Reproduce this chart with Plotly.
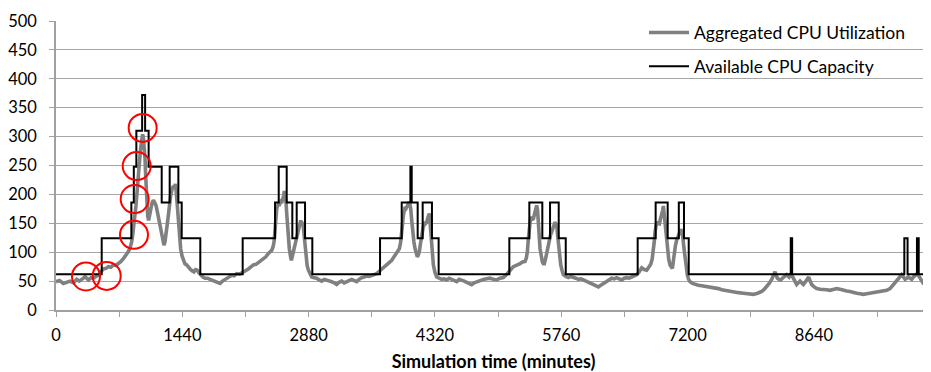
import plotly.graph_objects as go

# ---- Data ----
util_x = [
    0, 40, 84, 120, 160, 200, 236, 265, 293, 312,
    331, 350, 369, 400, 426, 455, 483, 510, 540, 570,
    597, 625, 654, 683, 711, 740, 768, 797, 825, 845,
    863, 876, 889, 900, 912, 922, 931, 940, 950, 960,
    969, 979, 988, 997, 1007, 1015, 1022, 1030, 1037, 1046,
    1056, 1067, 1079, 1094, 1110, 1125, 1140, 1155, 1170, 1188,
    1205, 1218, 1231, 1242, 1254, 1268, 1281, 1294, 1307, 1322,
    1338, 1350, 1361, 1369, 1376, 1385, 1395, 1408, 1421, 1436,
    1452, 1470, 1490, 1510, 1528, 1550, 1573, 1592, 1611, 1630,
    1649, 1675, 1699, 1728, 1756, 1785, 1813, 1840, 1870, 1898,
    1927, 1965, 2003, 2030, 2060, 2095, 2128, 2160, 2193, 2222,
    2250, 2280, 2307, 2335, 2364, 2392, 2421, 2440, 2459, 2474,
    2486, 2494, 2501, 2509, 2516, 2528, 2539, 2550, 2561, 2572,
    2584, 2594, 2603, 2612, 2622, 2630, 2637, 2648, 2660, 2672,
    2683, 2694, 2706, 2720, 2736, 2750, 2763, 2776, 2790, 2800,
    2812, 2822, 2831, 2840, 2850, 2863, 2877, 2895, 2915, 2943,
    2972, 3000, 3029, 3058, 3086, 3115, 3143, 3170, 3200, 3228,
    3257, 3285, 3314, 3342, 3371, 3400, 3428, 3456, 3485, 3514,
    3542, 3570, 3599, 3628, 3656, 3685, 3713, 3742, 3770, 3798,
    3827, 3856, 3884, 3900, 3914, 3928, 3941, 3950, 3960, 3970,
    3979, 3992, 4006, 4017, 4028, 4036, 4044, 4055, 4066, 4080,
    4093, 4106, 4119, 4130, 4142, 4155, 4169, 4182, 4196, 4210,
    4226, 4240, 4256, 4265, 4275, 4288, 4302, 4320, 4340, 4368,
    4397, 4425, 4454, 4482, 4511, 4540, 4568, 4596, 4625, 4654,
    4682, 4710, 4739, 4768, 4796, 4834, 4872, 4910, 4948, 4986,
    5024, 5062, 5100, 5128, 5157, 5185, 5214, 5252, 5290, 5318,
    5347, 5362, 5374, 5385, 5396, 5408, 5419, 5430, 5442, 5452,
    5461, 5470, 5480, 5490, 5499, 5508, 5518, 5530, 5545, 5556,
    5567, 5580, 5594, 5610, 5624, 5638, 5651, 5670, 5689, 5698,
    5708, 5718, 5727, 5740, 5754, 5770, 5784, 5812, 5841, 5870,
    5898, 5926, 5955, 5984, 6012, 6040, 6069, 6098, 6126, 6155,
    6183, 6202, 6221, 6250, 6278, 6306, 6335, 6364, 6392, 6420,
    6449, 6478, 6506, 6535, 6563, 6592, 6620, 6648, 6677, 6705,
    6734, 6757, 6780, 6796, 6810, 6820, 6829, 6838, 6848, 6862,
    6878, 6890, 6905, 6915, 6924, 6934, 6943, 6956, 6970, 6985,
    7000, 7014, 7027, 7038, 7049, 7062, 7076, 7090, 7103, 7114,
    7125, 7135, 7144, 7158, 7171, 7185, 7198, 7212, 7228, 7256,
    7285, 7323, 7361, 7408, 7456, 7503, 7551, 7590, 7627, 7675,
    7722, 7780, 7836, 7893, 7950, 7998, 8045, 8075, 8102, 8130,
    8159, 8178, 8197, 8210, 8224, 8243, 8262, 8281, 8300, 8315,
    8330, 8344, 8357, 8368, 8379, 8392, 8406, 8425, 8444, 8463,
    8482, 8500, 8520, 8540, 8558, 8570, 8581, 8598, 8615, 8643,
    8672, 8710, 8748, 8786, 8824, 8862, 8900, 8938, 8976, 9014,
    9052, 9090, 9128, 9166, 9204, 9242, 9280, 9318, 9356, 9394,
    9432, 9470, 9508, 9537, 9565, 9590, 9614, 9628, 9641, 9660,
    9679, 9698, 9717, 9736, 9755, 9774, 9793, 9806, 9819, 9835,
    9850, 9869, 9888, 9907, 9926, 9945, 9964,
]
util_y = [
    49, 51, 46, 48, 50, 47, 53, 50, 52, 55,
    58, 54, 52, 56, 55, 58, 60, 66, 71, 72,
    75, 74, 78, 77, 80, 84, 89, 94, 101, 108,
    118, 132, 147, 165, 181, 200, 221, 240, 256, 272,
    284, 298, 304, 296, 284, 262, 233, 200, 175, 162,
    155, 166, 172, 185, 190, 184, 181, 170, 158, 142,
    129, 118, 112, 118, 129, 148, 164, 185, 198, 208,
    215, 212, 218, 208, 193, 170, 147, 122, 106, 94,
    86, 80, 78, 73, 71, 68, 66, 70, 69, 64,
    60, 57, 55, 55, 53, 51, 49, 47, 46, 50,
    53, 56, 60, 59, 63, 62, 66, 68, 71, 75,
    78, 79, 82, 86, 89, 92, 98, 100, 103, 109,
    118, 132, 147, 163, 175, 181, 184, 183, 187, 185,
    190, 197, 206, 200, 187, 167, 147, 125, 106, 94,
    86, 93, 101, 112, 124, 133, 141, 148, 155, 150,
    152, 140, 124, 105, 89, 77, 69, 62, 57, 56,
    55, 52, 50, 53, 52, 50, 49, 47, 44, 48,
    50, 47, 49, 51, 53, 51, 49, 53, 56, 57,
    59, 58, 60, 61, 63, 67, 71, 76, 80, 82,
    86, 92, 98, 101, 106, 116, 129, 148, 164, 172,
    178, 176, 181, 183, 187, 182, 175, 155, 135, 118,
    106, 97, 92, 95, 101, 115, 129, 142, 152, 149,
    152, 160, 167, 150, 129, 100, 78, 65, 57, 55,
    53, 54, 52, 55, 53, 51, 49, 53, 52, 50,
    48, 46, 44, 47, 49, 51, 53, 54, 55, 53,
    52, 55, 56, 60, 66, 70, 75, 77, 80, 83,
    84, 90, 101, 124, 147, 156, 161, 157, 158, 165,
    170, 175, 181, 172, 158, 130, 106, 92, 83, 80,
    80, 88, 98, 112, 124, 130, 135, 144, 152, 149,
    147, 130, 112, 92, 78, 68, 61, 58, 56, 58,
    57, 55, 53, 54, 52, 50, 49, 47, 44, 42,
    40, 42, 44, 47, 50, 53, 55, 54, 56, 54,
    52, 55, 56, 55, 57, 59, 61, 66, 73, 70,
    69, 74, 79, 88, 101, 118, 135, 146, 152, 150,
    149, 157, 164, 172, 180, 165, 147, 122, 101, 88,
    78, 74, 72, 85, 101, 112, 121, 126, 129, 133,
    140, 134, 129, 108, 89, 72, 60, 53, 49, 46,
    44, 43, 42, 41, 40, 38, 37, 35, 34, 32,
    30, 30, 29, 28, 27, 29, 32, 36, 40, 46,
    53, 60, 66, 60, 55, 53, 52, 55, 57, 59,
    61, 59, 57, 60, 63, 59, 55, 49, 44, 47,
    50, 47, 44, 48, 53, 55, 57, 50, 44, 40,
    37, 36, 36, 35, 34, 35, 37, 36, 34, 33,
    32, 30, 29, 28, 27, 28, 29, 29, 30, 31,
    32, 34, 37, 42, 49, 53, 57, 59, 61, 57,
    53, 55, 57, 55, 53, 57, 60, 62, 63, 59,
    55, 50, 46, 44, 43, 50, 57,
]

cap_x = [0, 521, 859, 887, 916, 982, 1016, 1056, 1205, 1296, 1395, 1433, 1645, 2128, 2497, 2539, 2630,
         2694, 2744, 2839, 2922, 3694, 3941, 4040, 4055, 4123, 4180, 4286, 4362, 5168, 5396, 5544,
         5632, 5731, 5811, 6631, 6836, 6973, 7100, 7159, 7213, 8376, 8392, 9671, 9708, 9815, 9835, 9975]
cap_y = [62, 124, 186, 248, 310, 372, 310, 248, 186, 248, 186, 124, 62, 124, 186, 248, 186,
         124, 186, 124, 62, 124, 186, 248, 186, 124, 186, 124, 62, 124, 186, 124,
         186, 124, 62, 124, 186, 124, 186, 124, 62, 124, 62, 124, 62, 124, 62, 62]

circle_x = [342, 578, 889, 897, 920, 988]
circle_y = [58, 59, 130, 192, 249, 315]

x_tickvals = [0, 720, 1440, 2160, 2880, 3600, 4320, 5040, 5760, 6480, 7200, 7920, 8640, 9360]
x_ticktext = ["0", "", "1440", "", "2880", "", "4320", "", "5760", "", "7200", "", "8640", ""]
y_tickvals = [0, 50, 100, 150, 200, 250, 300, 350, 400, 450, 500]

FONT = "Lato, 'Open Sans', sans-serif"

fig = go.Figure()
fig.add_trace(go.Scatter(x=util_x, y=util_y, mode="lines", name="Aggregated CPU Utilization",
                         line=dict(color="#808080", width=3.6), legendgroup="a"))
fig.add_trace(go.Scatter(x=cap_x, y=cap_y, mode="lines", name="Available CPU Capacity",
                         line=dict(color="#000000", width=2, shape="hv"), legendgroup="b"))
fig.add_trace(go.Scatter(x=circle_x, y=circle_y, mode="markers", showlegend=False,
                         marker=dict(symbol="circle-open", size=28, color="#ff0000",
                                     line=dict(color="#ff0000", width=2))))

# page body has an 8px default margin, so the figure is sized to fit the 931x372 window
fig.update_layout(
    width=923, height=364,
    margin=dict(l=48, r=0, t=13, b=62),
    paper_bgcolor="white", plot_bgcolor="white",
    font=dict(family=FONT, size=16.5, color="#000000"),
    legend=dict(x=0.672, y=1.022, xanchor="left", yanchor="top", bgcolor="rgba(0,0,0,0)",
                font=dict(family=FONT, size=17.5), tracegroupgap=8, itemwidth=40),
    showlegend=True,
)
fig.update_xaxes(range=[0, 9975], tickmode="array", tickvals=x_tickvals, ticktext=x_ticktext,
                 showgrid=False, showline=True, linecolor="#a0a0a0", linewidth=1.5,
                 ticks="outside", ticklen=5, tickcolor="#a0a0a0", tickwidth=1.2,
                 zeroline=False, automargin=False, ticklabelstandoff=4,
                 title=dict(text="<b>Simulation time (minutes)</b>", font=dict(family=FONT, size=18), standoff=14))
fig.update_yaxes(range=[0, 500], tickmode="array", tickvals=y_tickvals,
                 showgrid=True, gridcolor="#a6a6a6", gridwidth=1.3,
                 showline=True, linecolor="#a0a0a0", linewidth=1.5,
                 ticks="outside", ticklen=5, tickcolor="#a0a0a0", tickwidth=1.2, zeroline=False,
                 automargin=False, ticklabelstandoff=9)

fig.write_html("out.html")
